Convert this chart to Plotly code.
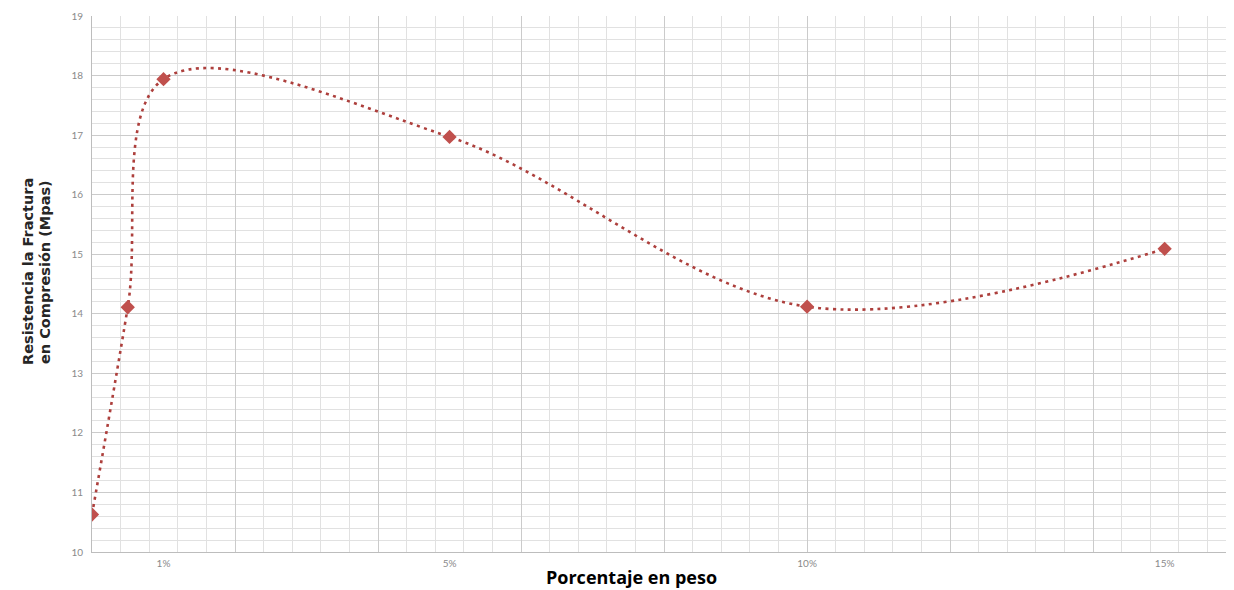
import plotly.graph_objects as go

# Data
porcentaje = [0, 0.5, 1, 5, 10, 15]
resistencia = [10.63, 14.11, 17.94, 16.97, 14.12, 15.09]
tick_vals = [1, 5, 10, 15]
tick_text = ["1%", "5%", "10%", "15%"]

# page has an 8px body margin; compensate so the plot area lands at the reference spot
OFF = 8
W, H = 1234 - OFF, 590 - OFF
PL, PR, PT, PB = 92, 1234, 16, 552          # plot area in page pixels
L, T = PL - OFF, PT - OFF
R = (OFF + W) - PR
B = (OFF + H) - PB
XMAX = 15.97

red = "#C0504D"
grid_major = "#cbcbcb"
grid_minor = "#e1e1e1"
tick_color = "#8a8a8a"


def px_x(x):
    return (x - PL) / (PR - PL)


def px_y(y):
    return 1 - (y - PT) / (PB - PT)


fig = go.Figure()
fig.add_trace(go.Scatter(
    x=porcentaje, y=resistencia, mode="lines+markers",
    line=dict(color="#ad3f3c", width=2.6, dash="3px,4.4px", shape="spline", smoothing=1.0),
    marker=dict(symbol="diamond", size=11, color=red, line=dict(width=0)),
    hoverinfo="x+y", showlegend=False,
))
# empty trace to activate the label axis
fig.add_trace(go.Scatter(x=[], y=[], xaxis="x2", showlegend=False, hoverinfo="skip"))

fig.update_layout(
    width=W, height=H,
    margin=dict(l=L, r=R, t=T, b=B, autoexpand=False),
    paper_bgcolor="white", plot_bgcolor="white",
    xaxis=dict(
        range=[0, XMAX], dtick=2, tick0=0, showgrid=True, gridcolor=grid_major, gridwidth=1,
        showticklabels=False, ticks="", zeroline=False,
        showline=True, linecolor="#bdbdbd", linewidth=1,
        minor=dict(dtick=0.4, tick0=0, showgrid=True, gridcolor=grid_minor, gridwidth=1),
    ),
    xaxis2=dict(
        range=[0, XMAX], overlaying="x", anchor="y", side="bottom",
        tickvals=tick_vals, ticktext=tick_text, showgrid=False, zeroline=False,
        ticks="", tickfont=dict(family="Lato", size=10, color=tick_color),
        ticklabelstandoff=4,
    ),
    yaxis=dict(
        range=[10, 19], dtick=1, tick0=10, showgrid=True, gridcolor=grid_major, gridwidth=1,
        zeroline=False, showline=True, linecolor="#bdbdbd", linewidth=1, ticks="",
        tickfont=dict(family="Lato", size=10, color=tick_color),
        ticklabelstandoff=6,
        minor=dict(dtick=0.2, tick0=10, showgrid=True, gridcolor=grid_minor, gridwidth=1),
    ),
    annotations=[
        dict(
            text="<b>Resistencia la Fractura</b>",
            textangle=-90, xref="paper", yref="paper",
            x=px_x(28), y=px_y(272),
            xanchor="center", yanchor="middle", showarrow=False,
            font=dict(family="DejaVu Sans", size=14.5, color="#262626"),
        ),
        dict(
            text="<b>en Compresión (Mpas)</b>",
            textangle=-90, xref="paper", yref="paper",
            x=px_x(45), y=px_y(272),
            xanchor="center", yanchor="middle", showarrow=False,
            font=dict(family="DejaVu Sans", size=14.5, color="#262626"),
        ),
        dict(
            text="<b>Porcentaje en peso</b>",
            xref="paper", yref="paper",
            x=px_x(631), y=px_y(577),
            xanchor="center", yanchor="middle", showarrow=False,
            font=dict(family="Open Sans", size=18, color="#000000"),
        ),
    ],
)

fig.write_html("out.html")
